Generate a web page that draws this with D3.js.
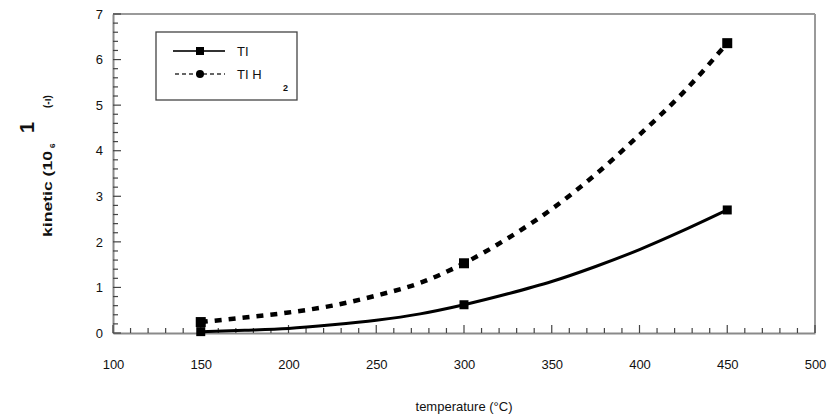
<!DOCTYPE html>
<html>
<head>
<meta charset="utf-8">
<script src="https://cdn.jsdelivr.net/npm/d3@7"></script>
<style>
  html, body { margin: 0; padding: 0; background: #fff; }
  svg { display: block; font-family: "Liberation Sans", Arial, sans-serif; }
</style>
</head>
<body>
<svg id="chart" width="831" height="416"></svg>
<script>
// ---- data ----
const markerTemps = [150, 300, 450];
const tiValues = [0.03, 0.62, 2.7];
const tih2Values = [0.24, 1.53, 6.36];

// curve samples
const curveTemps = [150, 175, 200, 225, 250, 275, 300, 325, 350, 375, 400, 425, 450];
const tiCurve = [0.03, 0.06, 0.10, 0.18, 0.28, 0.42, 0.62, 0.86, 1.13, 1.46, 1.83, 2.25, 2.7];
const tih2Curve = [0.24, 0.34, 0.45, 0.60, 0.82, 1.10, 1.53, 2.08, 2.72, 3.48, 4.35, 5.28, 6.36];

const xTicks = [100, 150, 200, 250, 300, 350, 400, 450, 500];
const yTicks = [0, 1, 2, 3, 4, 5, 6, 7];
const seriesNames = ["TI", "TI H"];

// ---- layout ----
const svg = d3.select("#chart");
const L = 113, R = 815, T = 14, B = 333;
const x = d3.scaleLinear().domain([100, 500]).range([L, R]);
const y = d3.scaleLinear().domain([0, 7]).range([B, T]);

// frame (top/right)
svg.append("line").attr("x1", L).attr("x2", R).attr("y1", T).attr("y2", T)
  .attr("stroke", "#9a9a9a").attr("stroke-width", 2);
svg.append("line").attr("x1", R).attr("x2", R).attr("y1", T).attr("y2", B)
  .attr("stroke", "#9a9a9a").attr("stroke-width", 2);

// axes (domain + labels)
const gx = svg.append("g").attr("transform", `translate(0,${B})`)
  .call(d3.axisBottom(x).tickValues(xTicks).tickSize(0).tickSizeOuter(0).tickPadding(27).tickFormat(d3.format("d")));
const gy = svg.append("g").attr("transform", `translate(${L},0)`)
  .call(d3.axisLeft(y).tickValues(yTicks).tickSize(0).tickSizeOuter(0).tickPadding(10).tickFormat(d3.format("d")));
[gx, gy].forEach(g => {
  g.select(".domain").attr("stroke", "#8a8a8a").attr("stroke-width", 2);
  g.selectAll(".tick line").remove();
  g.selectAll("text").attr("fill", "#111").style("font-size", "13px")
    .style("font-family", "'Liberation Sans', Arial, sans-serif");
});

// ticks (inward), drawn from the scales
const xMinor = d3.range(100, 501, 10).filter(v => v % 50 !== 0);
const yMinor = d3.range(1, 35).filter(v => v % 5 !== 0).map(v => v / 5);
const tg = svg.append("g");
function tickLines(data, horizontal, len) {
  tg.append("g").selectAll("line").data(data).join("line")
    .attr("x1", d => horizontal ? x(d) : L)
    .attr("x2", d => horizontal ? x(d) : L + len)
    .attr("y1", d => horizontal ? B : y(d))
    .attr("y2", d => horizontal ? B - len : y(d))
    .attr("stroke", "#444").attr("stroke-width", 1.2);
}
tickLines(xMinor, true, 5);
tickLines(xTicks, true, 8);
tickLines(yMinor, false, 5);
tickLines(yTicks, false, 8);

// axis titles
svg.append("text").attr("x", (L + R) / 2).attr("y", 411).attr("text-anchor", "middle")
  .style("font-size", "13px").attr("fill", "#111").text("temperature (°C)");

const yl = svg.append("g").attr("fill", "#111").style("font-weight", "bold");
yl.append("text").attr("transform", "translate(52,237) rotate(-90)")
  .attr("textLength", 86).attr("lengthAdjust", "spacingAndGlyphs")
  .style("font-size", "13px").text("kinetic (10");
yl.append("text").attr("transform", "translate(55,148) rotate(-90)")
  .style("font-size", "8px").text("6");
yl.append("text").attr("transform", "translate(51,108) rotate(-90)")
  .style("font-size", "10px").text("(-ı)");
yl.append("text").attr("transform", "translate(34,133) rotate(-90)")
  .style("font-size", "20px").text("1");

// curves
const line = d3.line().x((d, i) => x(curveTemps[i])).y(d => y(d)).curve(d3.curveMonotoneX);
svg.append("path").datum(tiCurve).attr("d", line)
  .attr("fill", "none").attr("stroke", "#000").attr("stroke-width", 3);
svg.append("path").datum(tih2Curve).attr("d", line)
  .attr("fill", "none").attr("stroke", "#000").attr("stroke-width", 4.5)
  .attr("stroke-dasharray", "7,7");

// markers
svg.append("g").selectAll("rect").data(tih2Values).join("rect")
  .attr("x", (d, i) => x(markerTemps[i]) - 5).attr("y", d => y(d) - 5)
  .attr("width", 10).attr("height", 10).attr("fill", "#000");
svg.append("g").selectAll("rect").data(tiValues).join("rect")
  .attr("x", (d, i) => x(markerTemps[i]) - 4.5).attr("y", d => y(d) - 4.5)
  .attr("width", 9).attr("height", 9).attr("fill", "#000");

// legend
const lg = svg.append("g");
lg.append("rect").attr("x", 156).attr("y", 32).attr("width", 141).attr("height", 68)
  .attr("fill", "#fff").attr("stroke", "#444").attr("stroke-width", 1.3);
lg.append("line").attr("x1", 173).attr("x2", 225).attr("y1", 51).attr("y2", 51)
  .attr("stroke", "#333").attr("stroke-width", 2);
lg.append("rect").attr("x", 196).attr("y", 47).attr("width", 8).attr("height", 8).attr("fill", "#000");
lg.append("line").attr("x1", 175).attr("x2", 225).attr("y1", 74).attr("y2", 74)
  .attr("stroke", "#333").attr("stroke-width", 1.3).attr("stroke-dasharray", "4,3");
lg.append("circle").attr("cx", 200).attr("cy", 74).attr("r", 4).attr("fill", "#000");
lg.append("text").attr("x", 237).attr("y", 56).style("font-size", "13px").attr("fill", "#111").text(seriesNames[0]);
lg.append("text").attr("x", 237).attr("y", 79).style("font-size", "13px").attr("fill", "#111").text(seriesNames[1]);
lg.append("text").attr("x", 283).attr("y", 91).style("font-size", "9px").style("font-weight", "bold").attr("fill", "#111").text("2");
</script>
</body>
</html>
